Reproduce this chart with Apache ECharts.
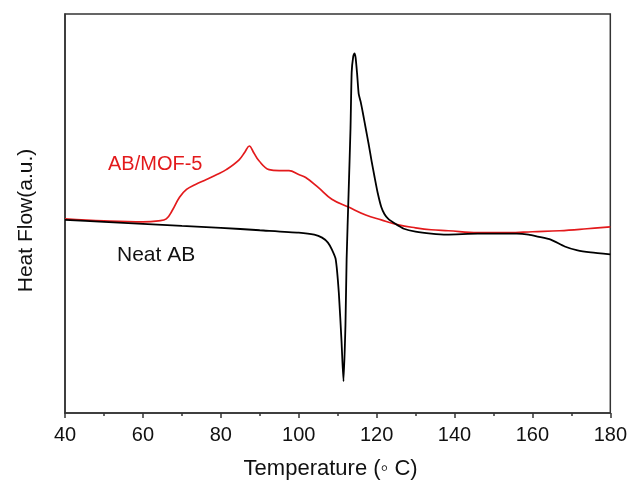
<!DOCTYPE html>
<html>
<head>
<meta charset="utf-8">
<script src="https://cdn.jsdelivr.net/npm/echarts@6/dist/echarts.min.js"></script>
<style>html,body{margin:0;padding:0;background:#fff}#c{width:630px;height:485px}</style>
</head>
<body>
<div id="c"></div>
<script>
// Temperature (°C) and heat flow (a.u.)
var neatT = [40, 50, 60, 70, 80, 90, 100, 104, 106, 107.5, 108.5, 109.5, 110.3, 111, 111.5, 112, 112.3, 112.8, 113.3, 113.6, 114, 114.3, 114.6, 115, 115.4, 115.9, 116.5, 117.2, 118, 118.7, 119.5, 120.3, 121.2, 122, 123, 124.8, 127, 130, 134, 138, 146, 152, 156, 159, 161.4, 164.7, 168.3, 171.6, 175, 180];
var neatHF = [196, 194, 192, 190, 188, 185.5, 183, 181, 178, 173, 166, 156, 122, 72, 32, 89, 156, 222, 289, 346, 362, 365, 361, 344, 324, 316, 304, 289, 272, 256, 239, 223, 209, 202, 197, 192, 187, 184, 182, 181, 182, 182, 182, 181, 179, 176, 169, 165, 163, 161];
var mofT = [40, 50, 60, 64, 66, 67.6, 69.4, 71.2, 73.5, 76.3, 79, 81.4, 84.7, 86.2, 87.3, 88.5, 89.8, 92.4, 95, 97.5, 100, 101.8, 105, 108.5, 112.8, 117.2, 121.2, 125.6, 130, 134, 138.4, 146, 154, 160, 167, 174, 180];
var mofHF = [197, 195, 194, 195, 197, 206, 219, 227, 232, 237, 242, 247, 257, 265, 271, 264, 256, 247, 246, 246, 242, 239, 229, 217, 209, 201, 196, 191, 188, 186, 185, 183, 183, 184, 185, 187, 189];
var xTicks = [40, 60, 80, 100, 120, 140, 160, 180];
var seriesNames = ['Neat AB', 'AB/MOF-5'];

function pairs(xs, ys) { return xs.map(function (x, i) { return [x, ys[i]]; }); }

var FONT = 'Liberation Sans, Arial, sans-serif';
var chart = echarts.init(document.getElementById('c'), null, { renderer: 'canvas' });
chart.setOption({
  animation: false,
  backgroundColor: '#fff',
  grid: { left: 65, right: 17, top: 14, bottom: 66, show: true, borderColor: '#333', borderWidth: 1.5, backgroundColor: 'transparent' },
  xAxis: {
    type: 'value', min: xTicks[0], max: xTicks[xTicks.length - 1], interval: 20,
    name: 'Temperature (◦ C)', nameLocation: 'middle', nameGap: 45,
    nameTextStyle: { fontFamily: FONT, fontSize: 22, color: '#111', padding: [0, 14, 0, 0] },
    axisLine: { show: true, lineStyle: { color: '#333', width: 1.5 } },
    axisTick: { show: true, inside: false, length: 5, lineStyle: { color: '#333', width: 1.5 } },
    minorTick: { show: true, splitNumber: 2, length: 3, lineStyle: { color: '#333', width: 1.5 } },
    axisLabel: { fontFamily: FONT, fontSize: 20, color: '#111', margin: 12 },
    splitLine: { show: false }
  },
  yAxis: {
    type: 'value', min: 0, max: 405,
    name: 'Heat Flow(a.u.)', nameLocation: 'middle', nameGap: 28,
    nameTextStyle: { fontFamily: FONT, fontSize: 21, color: '#111', padding: [0, 14, 0, 0] },
    axisLine: { show: true, lineStyle: { color: '#333', width: 1.5 } },
    axisTick: { show: false }, axisLabel: { show: false }, splitLine: { show: false }
  },
  series: [
    { name: seriesNames[0], type: 'line', data: pairs(neatT, neatHF), showSymbol: false, smooth: 0.2,
      lineStyle: { color: '#000', width: 1.8 }, z: 3 },
    { name: seriesNames[1], type: 'line', data: pairs(mofT, mofHF), showSymbol: false, smooth: 0.4,
      lineStyle: { color: '#e31a1c', width: 1.7 }, z: 2 }
  ],
  graphic: [
    { type: 'text', left: 108, top: 154, style: { text: 'AB/MOF-5', fill: '#e31a1c', font: '20px "Liberation Sans", Arial, sans-serif' } },
    { type: 'text', left: 117, top: 245, style: { text: 'Neat AB', fill: '#111', font: '21px "Liberation Sans", Arial, sans-serif' } }
  ]
});
</script>
</body>
</html>
